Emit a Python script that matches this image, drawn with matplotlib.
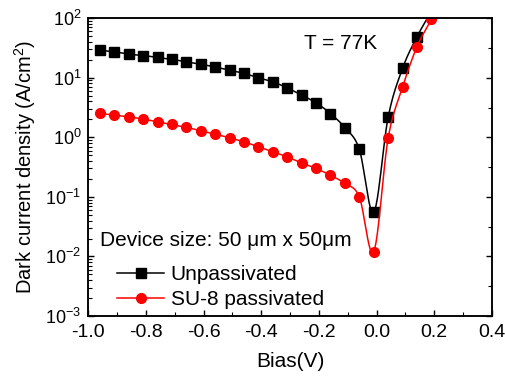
import numpy as np
import matplotlib
matplotlib.use('Agg')
import matplotlib.pyplot as plt
from matplotlib.ticker import FixedLocator, LogLocator, NullFormatter, MultipleLocator

plt.rcParams['font.family'] = ['Liberation Sans', 'DejaVu Sans']
plt.rcParams['mathtext.default'] = 'regular'

# bias points (V)
bias = [-0.96, -0.91, -0.86, -0.81, -0.76, -0.71, -0.66, -0.61, -0.56, -0.51,
        -0.46, -0.41, -0.36, -0.31, -0.26, -0.21, -0.16, -0.11, -0.06, -0.01,
        0.04, 0.09, 0.14, 0.19]

# dark current density (A/cm^2)
unpassivated = [29.0, 27.2, 24.9, 23.6, 21.9, 20.3, 18.5, 16.9, 15.1, 13.4,
                11.8, 10.0, 8.5, 6.76, 5.1, 3.8, 2.5, 1.45, 0.63, 0.055,
                2.16, 14.3, 48.5, 130.0]
su8 = [2.52, 2.36, 2.21, 2.02, 1.82, 1.64, 1.47, 1.28, 1.13, 0.98,
       0.84, 0.69, 0.57, 0.47, 0.37, 0.30, 0.23, 0.168, 0.10, 0.012,
       0.96, 6.9, 33.0, 95.0]

labels = ['Unpassivated', 'SU-8 passivated']
xticks = [-1.0, -0.8, -0.6, -0.4, -0.2, 0.0, 0.2, 0.4]
yticks = [1e-3, 1e-2, 1e-1, 1e0, 1e1, 1e2]


def smooth(x, y, n=12):
    # Catmull-Rom curve through the points, in log space
    x = np.asarray(x, float)
    ly = np.log10(np.asarray(y, float))
    px = np.concatenate([[2 * x[0] - x[1]], x, [2 * x[-1] - x[-2]]])
    py = np.concatenate([[2 * ly[0] - ly[1]], ly, [2 * ly[-1] - ly[-2]]])
    xs, ys = [], []
    t = np.linspace(0, 1, n, endpoint=False)
    for i in range(1, len(px) - 2):
        for arr, out in ((px, xs), (py, ys)):
            p0, p1, p2, p3 = arr[i - 1], arr[i], arr[i + 1], arr[i + 2]
            out.extend(0.5 * (2 * p1 + (-p0 + p2) * t
                              + (2 * p0 - 5 * p1 + 4 * p2 - p3) * t ** 2
                              + (-p0 + 3 * p1 - 3 * p2 + p3) * t ** 3))
    xs.append(x[-1])
    ys.append(ly[-1])
    return np.array(xs), 10 ** np.array(ys)


fig = plt.figure(figsize=(5.05, 3.78), dpi=100)
ax = fig.add_axes([0.175, 0.164, 0.799, 0.788])

for yv, col, mk, lab in ((unpassivated, 'black', 's', labels[0]),
                         (su8, 'red', 'o', labels[1])):
    sx, sy = smooth(bias, yv)
    ax.plot(sx, sy, color=col, lw=1.1)
    ax.plot(bias, yv, color=col, marker=mk, markersize=7, ls='none')
    ax.plot([], [], color=col, lw=1.1, marker=mk, markersize=7, label=lab)

ax.set_yscale('log')
ax.set_xlim(-1.0, 0.4)
ax.set_ylim(1e-3, 1e2)

ax.set_xticks(xticks)
ax.set_xticklabels(['%.1f' % v for v in xticks])
ax.xaxis.set_minor_locator(MultipleLocator(0.1))
ax.yaxis.set_major_locator(FixedLocator(yticks))
ax.set_yticklabels(['$10^{%d}$' % int(np.log10(v)) for v in yticks])
ax.yaxis.set_minor_locator(LogLocator(base=10, subs=np.arange(2, 10), numticks=20))
ax.yaxis.set_minor_formatter(NullFormatter())

ax.tick_params(which='both', direction='in', top=False, right=False)
ax.tick_params(axis='x', labelsize=14, pad=6)
ax.tick_params(axis='y', labelsize=13, pad=5)
ax.tick_params(which='major', length=4, width=1.0)
ax.tick_params(which='minor', length=3, width=0.8)
for lb in ax.get_yticklabels():
    lb.set_va('center_baseline')

# right axis ticks at half decades
ax2 = ax.twinx()
ax2.set_yscale('log')
ax2.set_ylim(1e-3, 1e2)
ax2.yaxis.set_major_locator(FixedLocator(yticks))
ax2.yaxis.set_minor_locator(FixedLocator(10 ** np.arange(-2.5, 2.0, 1.0)))
ax2.tick_params(which='both', direction='in', labelright=False)
ax2.tick_params(which='major', length=4, width=1.0)
ax2.tick_params(which='minor', length=3, width=0.8)
ax2.yaxis.set_minor_formatter(NullFormatter())

for sp in list(ax.spines.values()) + list(ax2.spines.values()):
    sp.set_linewidth(1.1)

ax.set_xlabel('Bias(V)', fontsize=15, labelpad=8)
ax.set_ylabel('Dark current density (A/cm$^2$)', fontsize=14.5, labelpad=5)

ax.text(0.624, 0.916, 'T = 77K', transform=ax.transAxes, fontsize=15,
        ha='center', va='center')
ax.text(0.03, 0.252, 'Device size: 50 \u03bcm x 50\u03bcm', transform=ax.transAxes,
        fontsize=15, ha='left', va='center')

ax.legend(loc='lower left', bbox_to_anchor=(0.071, 0.022), frameon=False,
          fontsize=15, handlelength=2.26, handletextpad=0.32, labelspacing=0.3,
          borderpad=0, borderaxespad=0)

fig.savefig('out.png', dpi=100)
